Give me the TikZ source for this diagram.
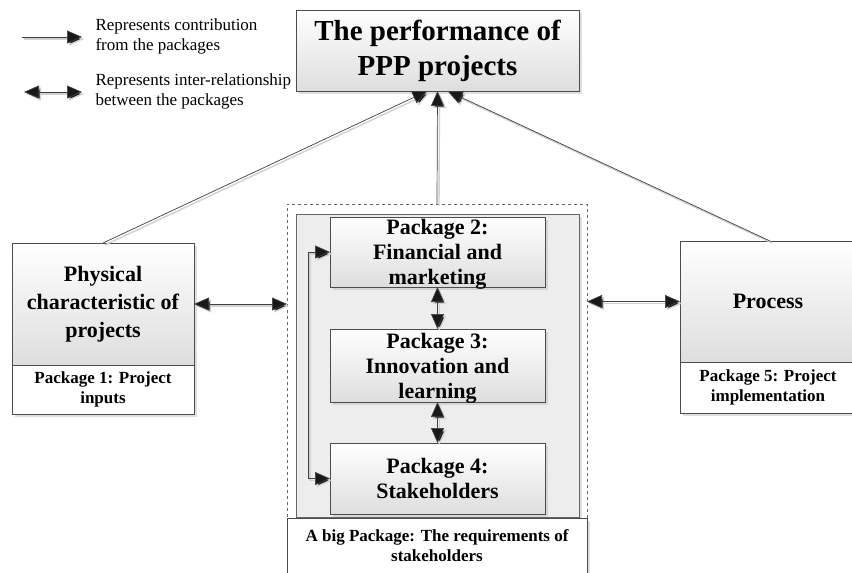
\documentclass[tikz,border=0pt]{standalone}
\usepackage{fontspec}
\setmainfont{Liberation Serif}
\usetikzlibrary{arrows.meta,shadows}

\tikzset{
  box/.style={draw=black!70, inner sep=0pt, outer sep=0pt, align=center, font=\bfseries\fontsize{22}{25}\selectfont,
    top color=white, bottom color=black!13, drop shadow={shadow xshift=3pt, shadow yshift=-3pt, fill=black!25}},
  sub/.style={draw=black!70, fill=white, inner sep=0pt, outer sep=0pt, align=center, font=\bfseries\fontsize{17}{20}\selectfont,
    drop shadow={shadow xshift=3pt, shadow yshift=-3pt, fill=black!25}},
  legtext/.style={anchor=west, align=left, font=\fontsize{17}{20}\selectfont},
  tip/.tip={Triangle[length=15pt,width=13pt,fill=black!90]},
  conn/.style={draw=black!75, line width=0.7pt, -tip,
    preaction={draw=black!18, line width=1.4pt, transform canvas={xshift=2pt,yshift=-2pt}}},
  dbl/.style={conn, tip-tip}
}

\begin{document}
\begin{tikzpicture}[x=1pt,y=-1pt]
		\useasboundingbox (0,0) rectangle (852,573);
		
		% legend
		\coordinate (la) at (22,37); \coordinate (lb) at (82,37);
		\coordinate (lc) at (24,92); \coordinate (ld) at (82,92);
		\draw[conn] (la)--(lb);
		\draw[dbl] (lc)--(ld);
		\node (l1) [legtext] at (92,36) {Represents contribution\\from the packages};
		\node (l2) [legtext] at (92,91) {Represents inter-relationship\\between the packages};
		
		% top
		\node (perf) [box, minimum width=283pt, minimum height=81pt, font=\bfseries\fontsize{29}{35}\selectfont] at (437.5,50.5) {The performance of\\PPP projects};
		
		% big package
		\node (big) [draw=black!60, dashed, fill=white, inner sep=0pt, outer sep=0pt, minimum width=300pt, minimum height=368pt] at (437,388) {};
		\node (inner) [draw=black!60, fill=black!7, inner sep=0pt, outer sep=0pt, minimum width=283pt, minimum height=303pt,
			drop shadow={shadow xshift=3pt, shadow yshift=-3pt, fill=black!25}] at (437.5,365.5) {};
		\node (p2) [box, minimum width=215pt, minimum height=70pt, text depth=-5pt] at (437.5,252) {Package 2:\\Financial and\\marketing};
		\node (p3) [box, minimum width=215pt, minimum height=73pt, text depth=-5pt] at (437.5,365.5) {Package 3:\\Innovation and\\learning};
		\node (p4) [box, minimum width=215pt, minimum height=71pt] at (437.5,478.5) {Package 4:\\Stakeholders};
		\node (req) [sub, minimum width=300pt, minimum height=55pt, text depth=-4pt] at (437,545.5) {A big Package: The requirements of\\stakeholders};
		
		% side packages
		\node (phys) [box, minimum width=182pt, minimum height=122pt, font=\bfseries\fontsize{22}{28}\selectfont] at (103,304) {Physical\\characteristic of\\projects};
		\node (pk1) [sub, minimum width=182pt, minimum height=49pt] at (103,389.5) {Package 1: Project\\inputs};
		\node (proc) [box, minimum width=176pt, minimum height=121pt] at (768,301.5) {Process};
		\node (pk5) [sub, minimum width=176pt, minimum height=51pt] at (768,387.5) {Package 5: Project\\implementation};
		
		% contributions
		\draw[conn] (phys.north)--([xshift=-10pt]perf.south);
		\draw[conn] (big.north)--(perf.south);
		\draw[conn] ([xshift=2pt]proc.north)--([xshift=10pt]perf.south);
		
		% inter-relationships
		\draw[dbl] (phys.east)--(phys.east -| big.west);
		\draw[dbl] (big.east |- proc.west)--(proc.west);
		\draw[dbl] (p2.south)--(p3.north);
		\draw[dbl] (p3.south)--(p4.north);
		\draw[dbl] (p2.west)--++(-22,0) |- (p4.west);
	\end{tikzpicture}
\end{document}
